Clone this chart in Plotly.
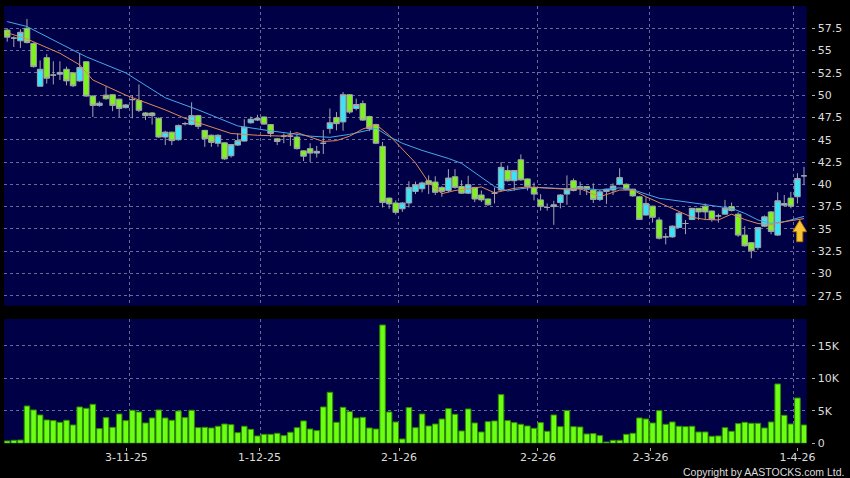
import plotly.graph_objects as go

# ---------------- data ----------------
tick_dates = ['3-11-25', '1-12-25', '2-1-26', '2-2-26', '2-3-26', '1-4-26']
tick_label_pos = [18.1, 38.3, 59.5, 80.6, 97.7, 120.0]
tick_grid_pos = [18.5, 38.5, 59.4, 80.5, 97.5, 119.4]

opens = [57.3, 56.4, 56.1, 57.5, 55.8, 51.0, 54.2, 52.25, 52.35, 52.9,
         52.5, 51.6, 53.75, 49.9, 48.85, 50.0, 50.05, 49.55, 48.6, 49.5,
         49.4, 48.0, 48.0, 47.4, 45.3, 45.85, 45.0, 46.8, 46.7, 47.7,
         46.05, 45.5, 44.6, 44.65, 43.2, 44.4, 44.85, 46.9, 47.2, 47.55,
         46.7, 45.1, 45.4, 45.4, 45.3, 43.75, 44.0, 43.5, 44.6, 46.25,
         47.5, 47.0, 50.05, 48.5, 49.05, 47.6, 46.7, 44.25, 38.45, 37.9,
         37.25, 37.9, 39.2, 39.5, 40.4, 40.25, 39.65, 39.3, 40.85, 39.75,
         39.0, 39.65, 38.8, 38.35, 39.0, 39.35, 41.55, 40.4, 42.75, 40.6,
         39.6, 38.25, 37.4, 37.5, 37.95, 38.9, 40.4, 39.75, 39.75, 39.35,
         38.3, 39.2, 39.35, 40.0, 40.0, 39.45, 38.6, 36.55, 37.55, 36.0,
         34.1, 34.1, 35.15, 35.6, 36.05, 37.3, 37.55, 37.0, 36.45, 36.65,
         37.5, 36.65, 34.3, 33.45, 32.9, 35.3, 36.9, 34.3, 37.65, 38.45,
         38.6, 40.95]
highs = [57.5, 56.6, 57.4, 58.55, 55.9, 53.9, 54.6, 53.8, 53.8, 53.2,
         52.6, 54.7, 53.8, 50.0, 49.3, 51.0, 50.1, 49.6, 49.0, 50.0,
         51.2, 48.1, 48.1, 47.5, 46.0, 45.9, 46.7, 47.0, 49.2, 47.8,
         46.1, 45.6, 45.6, 44.7, 44.5, 45.7, 47.3, 47.6, 47.8, 47.6,
         46.75, 45.2, 45.7, 46.0, 45.7, 43.8, 44.6, 44.3, 46.1, 48.5,
         48.1, 50.35, 50.1, 49.6, 49.4, 47.7, 46.8, 44.75, 38.5, 38.2,
         38.0, 40.35, 40.3, 40.3, 41.0, 40.9, 39.8, 41.7, 41.7, 40.45,
         40.95, 39.7, 39.3, 38.4, 39.65, 42.5, 42.1, 41.6, 43.35, 40.65,
         40.2, 38.9, 37.85, 38.15, 38.9, 41.0, 40.65, 40.3, 39.8, 40.1,
         39.4, 39.5, 40.1, 41.8, 40.1, 39.5, 38.7, 38.55, 37.6, 36.3,
         34.5, 35.4, 36.9, 36.0, 37.35, 37.35, 37.85, 37.05, 36.7, 38.25,
         37.95, 36.85, 35.3, 33.5, 35.2, 36.5, 37.0, 39.1, 38.8, 39.15,
         41.25, 41.95]
lows = [56.0, 55.4, 55.3, 55.8, 53.1, 50.95, 51.3, 51.2, 51.7, 51.1,
        50.9, 51.5, 49.8, 47.55, 48.7, 49.5, 48.2, 47.5, 48.5, 47.4,
        48.1, 47.2, 46.7, 45.2, 44.4, 44.4, 44.9, 46.6, 46.6, 46.2,
        44.2, 44.2, 44.2, 42.75, 43.0, 44.3, 44.8, 46.8, 47.1, 46.7,
        45.3, 44.4, 44.6, 44.3, 43.9, 42.6, 42.5, 43.0, 43.4, 45.7,
        46.05, 46.0, 47.9, 48.3, 47.1, 45.95, 44.5, 37.4, 37.25, 36.6,
        36.9, 37.4, 38.9, 39.1, 38.9, 38.8, 38.6, 39.1, 39.5, 38.95,
        38.9, 38.0, 38.0, 37.6, 37.85, 39.2, 40.3, 39.3, 40.4, 39.3,
        38.2, 37.05, 37.05, 35.45, 37.3, 37.7, 39.2, 38.8, 38.8, 37.9,
        38.1, 37.8, 38.8, 39.9, 39.35, 38.6, 36.0, 36.5, 35.7, 33.8,
        33.25, 34.0, 35.1, 34.4, 36.0, 36.0, 36.0, 35.8, 35.7, 36.6,
        36.95, 34.1, 33.0, 31.7, 32.65, 35.2, 34.4, 34.2, 37.5, 37.3,
        37.85, 39.9]
closes = [56.5, 56.4, 57.05, 55.9, 53.2, 52.9, 51.9, 52.25, 52.55, 51.6,
          51.05, 53.1, 49.9, 48.85, 49.1, 49.6, 48.85, 48.5, 48.9, 49.5,
          48.3, 47.7, 47.7, 45.3, 45.85, 44.9, 46.6, 46.8, 47.7, 46.5,
          45.1, 44.7, 45.5, 42.85, 44.45, 44.9, 46.4, 47.3, 47.4, 46.75,
          45.7, 44.8, 45.4, 45.4, 44.0, 43.15, 43.5, 43.7, 44.6, 46.9,
          46.8, 50.05, 48.1, 48.95, 47.2, 46.25, 44.6, 37.95, 37.8, 36.85,
          37.9, 39.65, 39.95, 40.15, 40.0, 39.1, 39.2, 40.7, 39.65, 39.0,
          39.95, 38.35, 38.25, 37.7, 39.0, 41.9, 40.4, 41.55, 40.5, 39.75,
          38.9, 37.5, 37.4, 37.7, 38.8, 39.45, 39.3, 39.5, 39.45, 38.3,
          39.15, 39.45, 39.8, 40.75, 39.45, 38.7, 36.05, 37.85, 36.3, 33.95,
          34.1, 35.3, 36.75, 35.6, 37.3, 36.9, 36.9, 36.05, 36.45, 37.3,
          37.05, 34.3, 33.1, 32.55, 35.15, 36.35, 34.7, 38.15, 37.85, 37.55,
          40.65, 40.95]
volumes_k = [0.36, 0.46, 0.5, 5.74, 5.13, 4.36, 3.59, 3.49, 3.23, 3.54,
             2.82, 5.59, 5.38, 6.0, 2.26, 3.95, 2.46, 4.51, 3.49, 5.08,
             4.82, 3.13, 3.9, 5.13, 3.9, 3.54, 4.97, 3.95, 5.08, 2.41,
             2.46, 2.36, 2.62, 2.97, 2.87, 1.64, 2.62, 2.15, 1.13, 1.38,
             1.38, 1.54, 1.18, 1.7, 2.41, 3.44, 2.2, 1.95, 5.59, 7.85,
             3.23, 5.54, 4.87, 3.9, 4.0, 2.36, 2.2, 18.2, 4.82, 3.28,
             0.67, 5.49, 2.41, 4.51, 2.67, 2.97, 3.74, 5.33, 4.46, 1.9,
             5.28, 3.13, 1.74, 3.33, 3.44, 7.49, 3.49, 3.18, 2.92, 2.67,
             2.31, 3.18, 1.85, 4.36, 2.56, 5.03, 2.56, 2.51, 1.44, 1.49,
             1.18, 0.2, 0.46, 0.46, 1.38, 1.54, 3.9, 3.74, 3.13, 5.03,
             2.92, 3.28, 2.62, 2.56, 2.62, 1.74, 1.74, 1.08, 1.13, 2.41,
             1.85, 3.03, 3.23, 3.08, 3.08, 2.36, 3.28, 9.13, 4.31, 2.97,
             6.97, 2.82]

ma_fast_idx = [0, 3, 8, 11, 13, 18, 20, 24, 27, 30, 34, 38, 42, 44, 48, 50, 52, 54, 56,
               58, 59, 61, 62, 64, 66, 68, 72, 74, 77, 79, 82, 85, 87, 90, 93, 95, 97,
               101, 104, 106, 108, 110, 112, 114, 116, 118, 121]
ma_fast_val = [57.0, 56.3, 54.7, 53.4, 51.7, 50.0, 49.45, 48.35, 47.4, 46.65, 45.7, 45.5,
               45.4, 45.8, 44.8, 44.9, 45.4, 46.2, 46.7, 45.5, 44.7, 43.1, 42.4, 40.2,
               38.95, 39.3, 39.7, 39.05, 39.55, 39.7, 39.6, 39.45, 39.5, 38.6, 39.35,
               39.35, 38.6, 37.3, 36.3, 36.05, 36.0, 36.65, 36.05, 35.6, 35.45, 35.8, 36.15]
ma_slow_idx = [0, 3, 8, 12, 18, 24, 29, 35, 39, 43, 46, 49, 52, 55, 56, 58, 60, 63, 67,
               69, 72, 74, 76, 78, 80, 85, 87, 90, 93, 95, 97, 99, 104, 107, 110, 112,
               114, 116, 118, 121]
ma_slow_val = [58.25, 57.7, 55.8, 54.3, 52.5, 49.7, 48.35, 46.55, 46.1, 45.7, 45.4, 45.27,
               45.6, 46.1, 46.3, 45.35, 44.6, 43.8, 42.9, 42.35, 40.85, 39.75, 39.25,
               39.5, 39.66, 39.5, 39.6, 39.36, 39.6, 39.4, 38.9, 38.43, 37.93, 37.6,
               37.3, 36.74, 36.0, 35.62, 35.8, 36.4]

price_ticks = [27.5, 30, 32.5, 35, 37.5, 40, 42.5, 45, 47.5, 50, 52.5, 55, 57.5]
price_tick_text = ['27.5', '30', '32.5', '35', '37.5', '40', '42.5', '45', '47.5',
                   '50', '52.5', '55', '57.5']
vol_ticks = [0, 5, 10, 15]
vol_tick_text = ['0', '5K', '10K', '15K']

# ---------------- styling ----------------
BG = '#000046'
CYAN = '#38e4f8'
GREEN = '#7cf41c'
WICK = '#a4a4ac'
GRID = '#6a6a98'
TXT = '#dcdcdc'
FONT = 'DejaVu Sans'

idx = list(range(len(opens)))
up = [i for i in idx if closes[i] > opens[i]]
dn = [i for i in idx if closes[i] < opens[i]]
flat = [i for i in idx if closes[i] == opens[i]]


def sub(lst, sel):
    return [lst[i] for i in sel]


fig = go.Figure()

fig.add_trace(go.Scatter(x=ma_slow_idx, y=ma_slow_val, mode='lines',
                         line=dict(color='#48a8e8', width=1), hoverinfo='skip',
                         showlegend=False))
fig.add_trace(go.Scatter(x=ma_fast_idx, y=ma_fast_val, mode='lines',
                         line=dict(color='#e0885a', width=1), hoverinfo='skip',
                         showlegend=False))

for sel, fill, edge in ((up, CYAN, WICK), (dn, GREEN, WICK), (flat, '#b8b8c0', WICK)):
    fig.add_trace(go.Candlestick(
        x=sub(idx, sel), open=sub(opens, sel), high=sub(highs, sel),
        low=sub(lows, sel), close=sub(closes, sel),
        increasing=dict(fillcolor=fill, line=dict(color=edge, width=1)),
        decreasing=dict(fillcolor=fill, line=dict(color=edge, width=1)),
        whiskerwidth=0, showlegend=False, xaxis='x', yaxis='y'))

fig.add_trace(go.Bar(x=idx, y=volumes_k, width=0.84,
                     marker=dict(color='#6cff14', line=dict(color='#2e8a00', width=1)),
                     xaxis='x2', yaxis='y2', showlegend=False))

# up arrow marker next to the last candle
ax_c = idx[-1] - 0.65
arrow_path = (f"M {ax_c},35.99 L {ax_c + 1.06},34.68 L {ax_c + 0.46},34.68 "
              f"L {ax_c + 0.46},33.56 L {ax_c - 0.46},33.56 L {ax_c - 0.46},34.68 "
              f"L {ax_c - 1.06},34.68 Z")
fig.add_shape(type='path', path=arrow_path, xref='x', yref='y',
              fillcolor='#f6c435', line=dict(color='#b07a00', width=1), layer='above')

x_range = [-0.49, 121.41]
x_dom = [0, 0.991]
grid_common = dict(gridcolor=GRID, griddash='3px,3px', gridwidth=1)

fig.update_layout(
    width=850, height=478,
    margin=dict(l=4, r=36, t=6, b=31),
    paper_bgcolor='black', plot_bgcolor=BG,
    font=dict(family=FONT, size=11, color=TXT),
    showlegend=False, hovermode=False,
    boxgap=0.16, boxgroupgap=0,
    bargap=0.16,
    xaxis=dict(domain=x_dom, range=x_range, anchor='y', tickmode='array',
               tickvals=tick_grid_pos, showticklabels=False, ticks='',
               showgrid=True, zeroline=False, showline=False,
               rangeslider=dict(visible=False), **grid_common),
    yaxis=dict(domain=[0.3204, 1], range=[26.38, 60.0], side='right',
               anchor='free', position=0.9969, tickmode='array',
               tickvals=price_ticks, ticktext=price_tick_text, ticks='outside',
               ticklen=3, tickcolor='#b0b0b0', showgrid=True, zeroline=False,
               showline=False, **grid_common),
    xaxis2=dict(domain=x_dom, range=x_range, anchor='free', position=0,
                tickmode='array', tickvals=tick_label_pos, ticktext=tick_dates,
                ticks='outside', ticklen=3, tickcolor='#b0b0b0', showgrid=False,
                zeroline=False, showline=False, ticklabelstandoff=-3,
                minor=dict(tickmode='array', tickvals=tick_grid_pos, ticks='',
                           showgrid=True, **grid_common)),
    yaxis2=dict(domain=[0.0084, 0.2902], range=[0, 19.12], side='right',
                anchor='free', position=0.9969, tickmode='array',
                tickvals=vol_ticks, ticktext=vol_tick_text, ticks='outside',
                ticklen=3, tickcolor='#b0b0b0', showgrid=True, zeroline=False,
                showline=False, **grid_common),
)

fig.add_annotation(text='Copyright by AASTOCKS.com Ltd.', xref='paper', yref='paper',
                   x=1, y=0, xanchor='right', yanchor='middle', xshift=32, yshift=-25,
                   showarrow=False, font=dict(family='Liberation Sans', size=10.5, color=TXT))

fig.write_html('out.html', config={'displayModeBar': False},
               post_script="document.body.style.margin='0';document.body.style.padding='0';")
